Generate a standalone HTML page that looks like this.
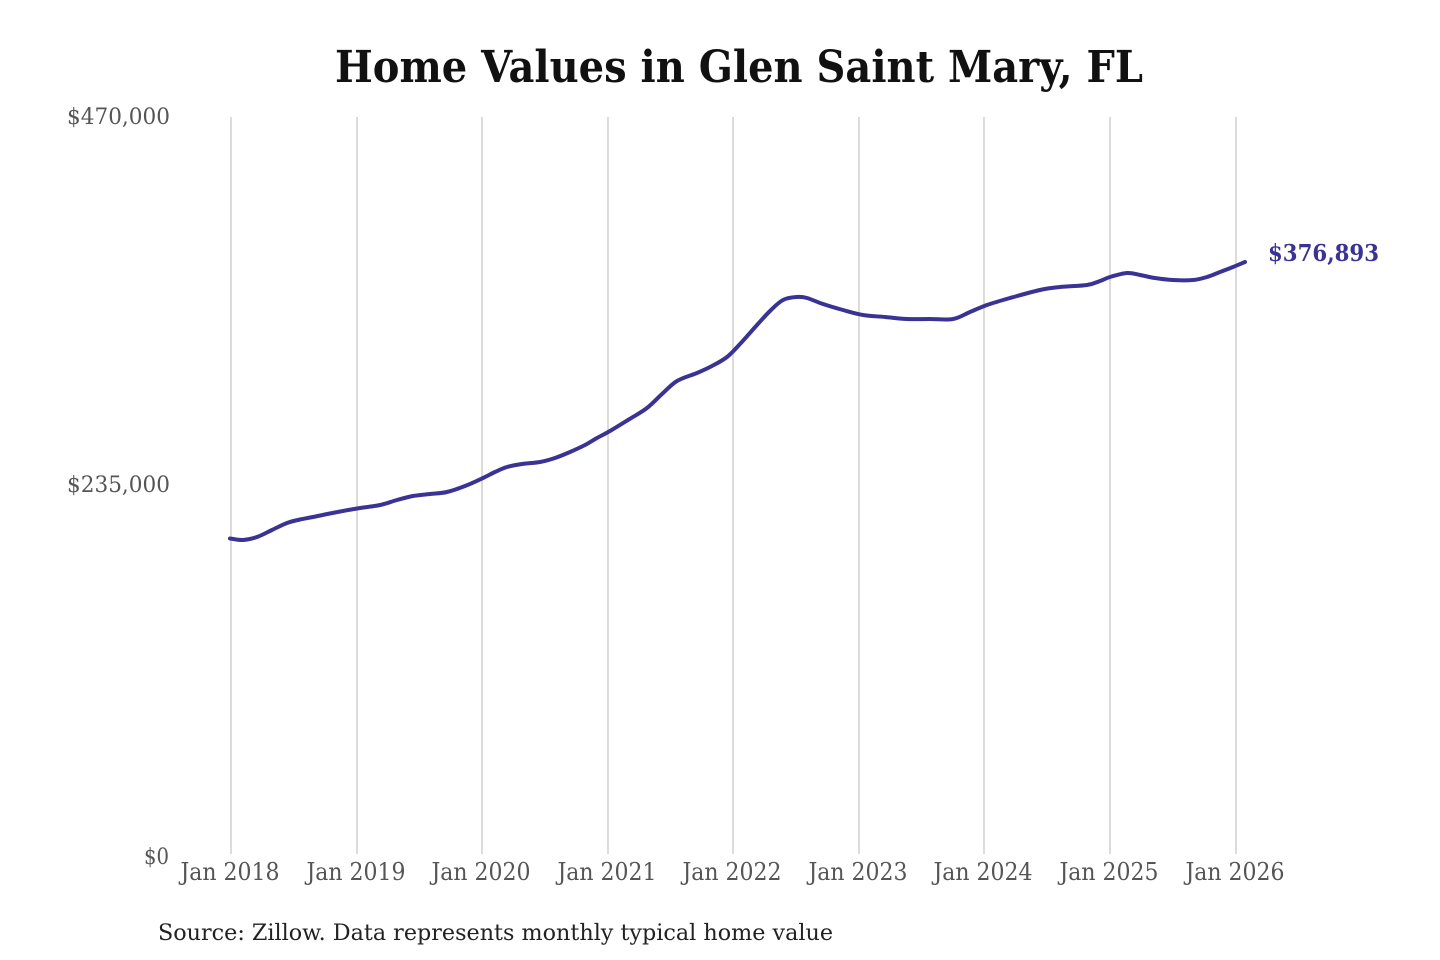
<!DOCTYPE html>
<html>
<head>
<meta charset="utf-8">
<style>
  html, body { margin: 0; padding: 0; background: #ffffff; }
  svg { display: block; }
  text { font-family: "DejaVu Serif", "Liberation Serif", serif; }
</style>
</head>
<body>
<svg width="1440" height="960" viewBox="0 0 1440 960" xmlns="http://www.w3.org/2000/svg">
  <rect width="1440" height="960" fill="#ffffff"/>

  <!-- Title -->
  <text x="335" y="82" font-size="44" font-weight="bold" fill="#111111" textLength="808" lengthAdjust="spacingAndGlyphs">Home Values in Glen Saint Mary, FL</text>

  <!-- Vertical gridlines -->
  <g stroke="#c8c8c8" stroke-width="1.3">
    <line x1="231" y1="117" x2="231" y2="854"/>
    <line x1="357" y1="117" x2="357" y2="854"/>
    <line x1="482" y1="117" x2="482" y2="854"/>
    <line x1="608" y1="117" x2="608" y2="854"/>
    <line x1="733" y1="117" x2="733" y2="854"/>
    <line x1="859" y1="117" x2="859" y2="854"/>
    <line x1="984" y1="117" x2="984" y2="854"/>
    <line x1="1110" y1="117" x2="1110" y2="854"/>
    <line x1="1236" y1="117" x2="1236" y2="854"/>
  </g>

  <!-- Y labels -->
  <g font-size="22" fill="#555555" text-anchor="end">
    <text x="170" y="124" textLength="103" lengthAdjust="spacingAndGlyphs">$470,000</text>
    <text x="170" y="492" textLength="103" lengthAdjust="spacingAndGlyphs">$235,000</text>
    <text x="169" y="864" textLength="25" lengthAdjust="spacingAndGlyphs">$0</text>
  </g>

  <!-- X labels -->
  <g font-size="24" fill="#555555" text-anchor="middle">
    <text x="230" y="880" textLength="99" lengthAdjust="spacingAndGlyphs">Jan 2018</text>
    <text x="356" y="880" textLength="99" lengthAdjust="spacingAndGlyphs">Jan 2019</text>
    <text x="481" y="880" textLength="99" lengthAdjust="spacingAndGlyphs">Jan 2020</text>
    <text x="607" y="880" textLength="99" lengthAdjust="spacingAndGlyphs">Jan 2021</text>
    <text x="732" y="880" textLength="99" lengthAdjust="spacingAndGlyphs">Jan 2022</text>
    <text x="858" y="880" textLength="99" lengthAdjust="spacingAndGlyphs">Jan 2023</text>
    <text x="983" y="880" textLength="99" lengthAdjust="spacingAndGlyphs">Jan 2024</text>
    <text x="1109" y="880" textLength="99" lengthAdjust="spacingAndGlyphs">Jan 2025</text>
    <text x="1235" y="880" textLength="99" lengthAdjust="spacingAndGlyphs">Jan 2026</text>
  </g>

  <!-- Data line -->
  <polyline id="dl" fill="none" stroke="#3a3394" stroke-width="4" stroke-linejoin="round" stroke-linecap="round"
    points="230,538.5 243,540 257,537 272,530 287,523 300,519.5 313,517 335,512.5 357,508.5 380,505 397,500 413,496 430,494 447,492 465,486 483,478 495,472 507,467 522,464 540,462 555,458 570,452 585,445 597,438 610,431 628,420 647,408 662,394 677,381 697,373 712,366 727,357 740,344 757,325 770,311 783,300 797,297 807,298 823,304 843,310 863,315 885,317 907,319 930,319 953,319 970,312 987,305 1010,298 1040,290 1060,287 1087,285 1100,281 1110,277 1127,273 1140,275 1155,278 1173,280 1193,280 1207,277 1220,272 1233,267 1245,262"/>

  <!-- End label -->
  <text x="1268" y="261" font-size="23" font-weight="bold" fill="#3a3394" textLength="111" lengthAdjust="spacingAndGlyphs">$376,893</text>

  <!-- Source -->
  <text x="158" y="940" font-size="22" fill="#222222" textLength="675" lengthAdjust="spacingAndGlyphs">Source: Zillow. Data represents monthly typical home value</text>
</svg>
<script>
(function(){
  try {
    var pl = document.getElementById('dl');
    var raw = pl.getAttribute('points').trim().split(/\s+/).map(function(s){var a=s.split(',');return [parseFloat(a[0]),parseFloat(a[1])];});
    var n = raw.length;
    var d = 'M' + raw[0][0] + ',' + raw[0][1];
    for (var i = 0; i < n - 1; i++) {
      var p0 = raw[i > 0 ? i - 1 : i], p1 = raw[i], p2 = raw[i + 1], p3 = raw[i + 2 < n ? i + 2 : i + 1];
      var c1x = p1[0] + (p2[0] - p0[0]) / 6, c1y = p1[1] + (p2[1] - p0[1]) / 6;
      var c2x = p2[0] - (p3[0] - p1[0]) / 6, c2y = p2[1] - (p3[1] - p1[1]) / 6;
      d += ' C' + c1x.toFixed(2) + ',' + c1y.toFixed(2) + ' ' + c2x.toFixed(2) + ',' + c2y.toFixed(2) + ' ' + p2[0] + ',' + p2[1];
    }
    var ns = 'http://www.w3.org/2000/svg';
    var path = document.createElementNS(ns, 'path');
    path.setAttribute('d', d);
    path.setAttribute('fill', 'none');
    path.setAttribute('stroke', '#3a3394');
    path.setAttribute('stroke-width', '4');
    path.setAttribute('stroke-linejoin', 'round');
    path.setAttribute('stroke-linecap', 'round');
    pl.parentNode.replaceChild(path, pl);
  } catch (e) {}
})();
</script>
</body>
</html>
